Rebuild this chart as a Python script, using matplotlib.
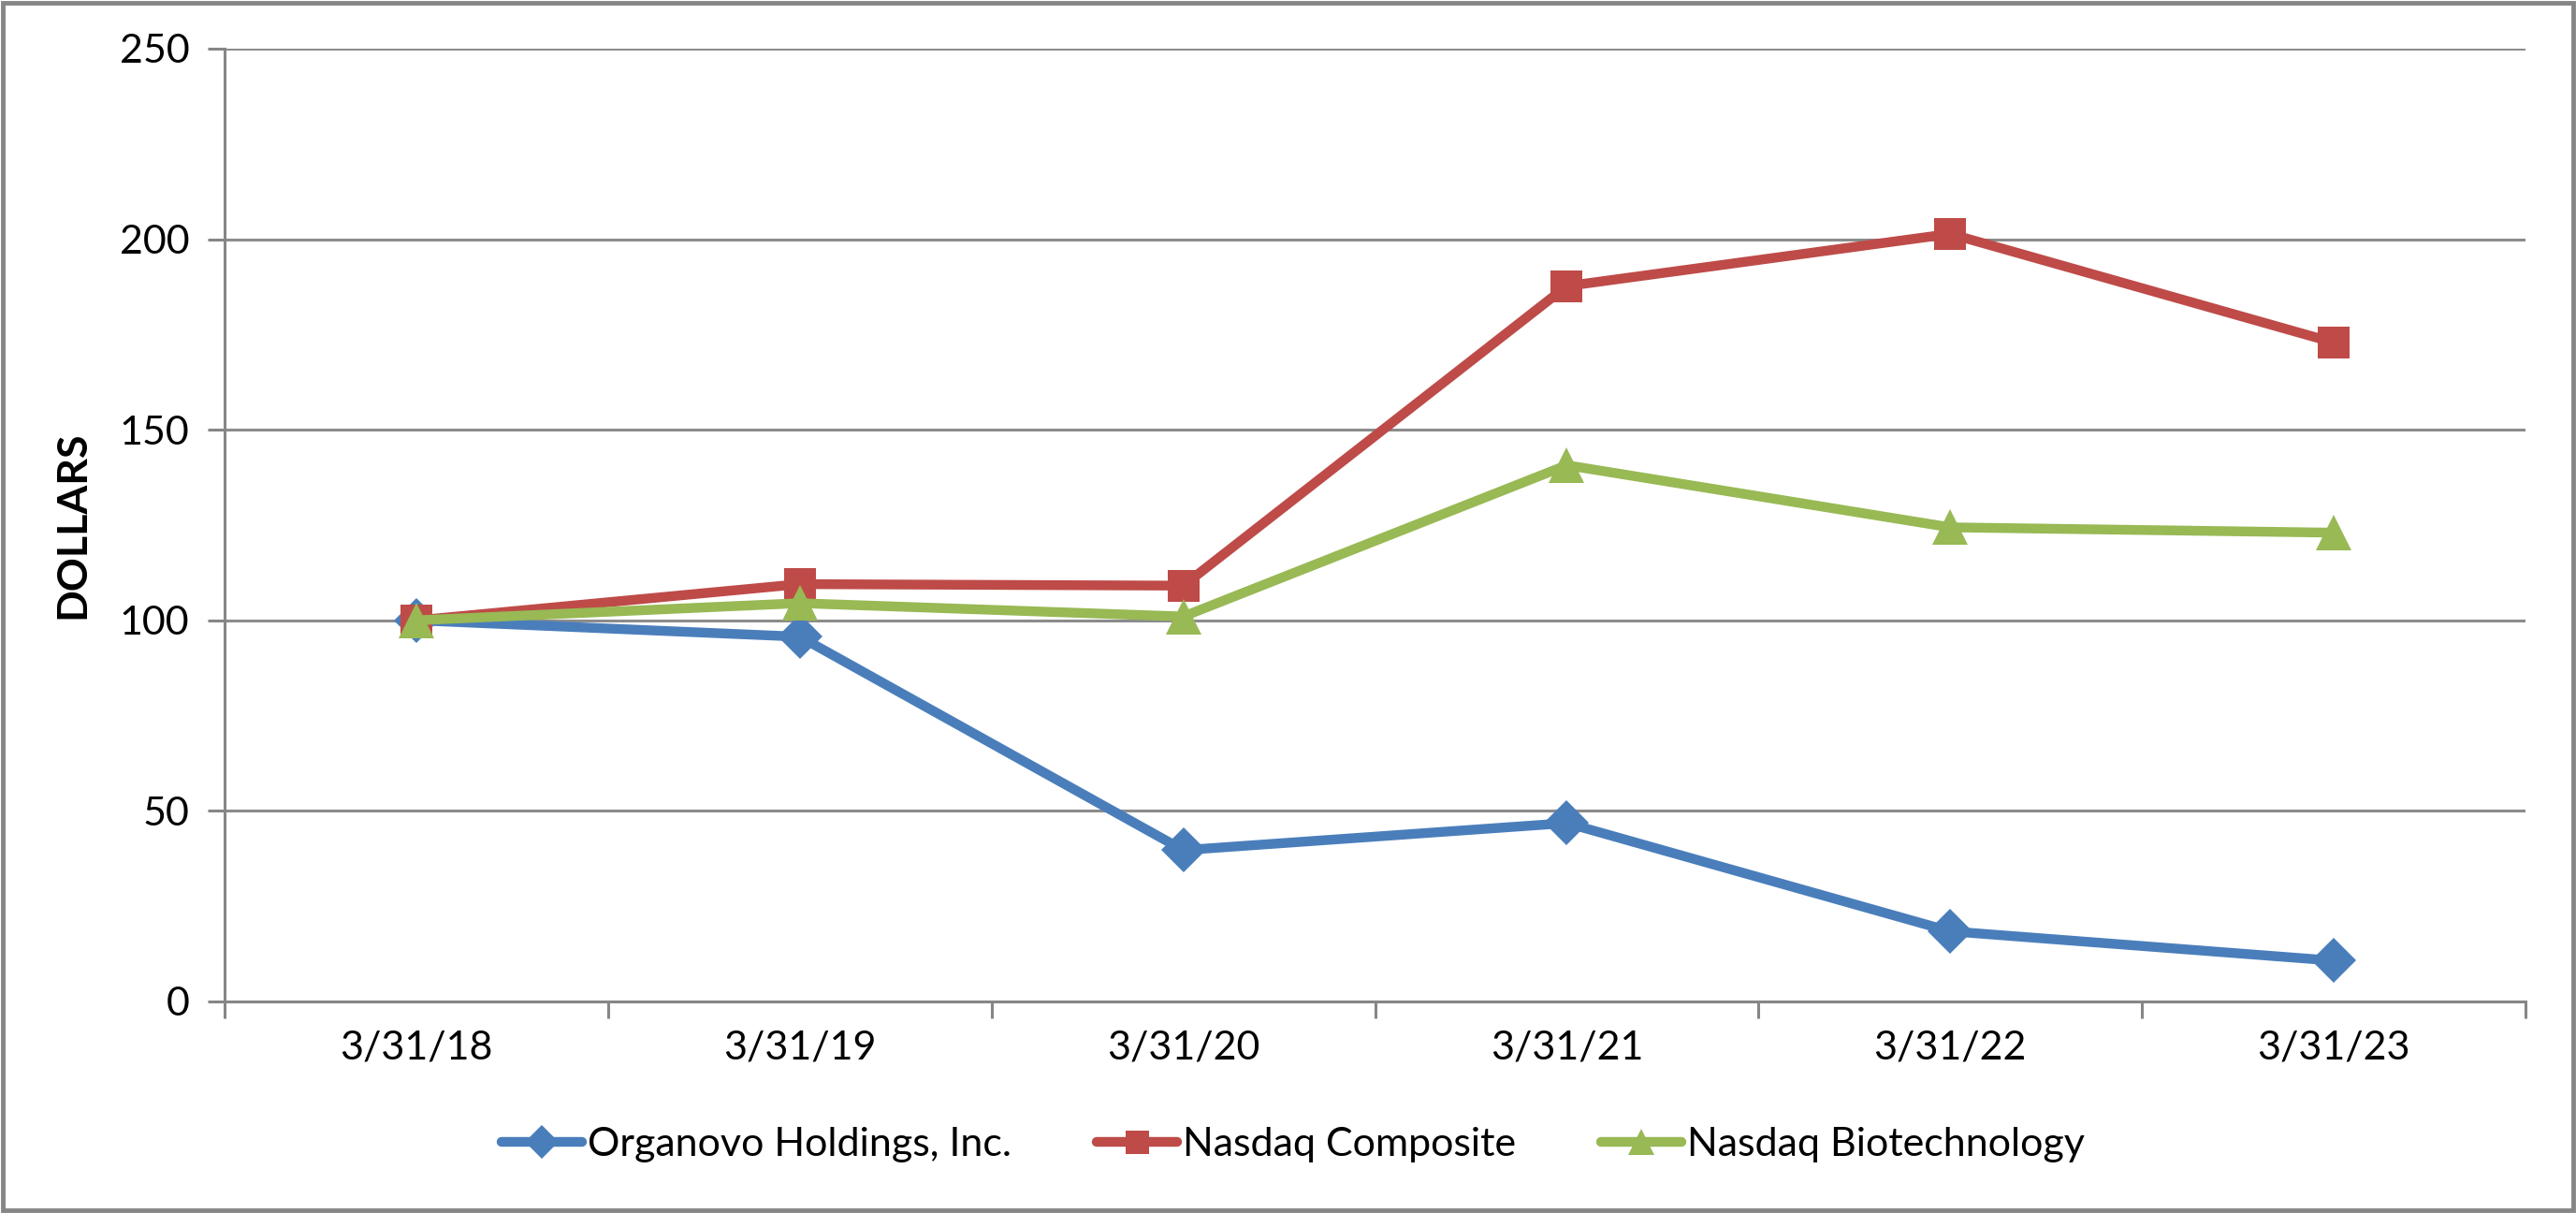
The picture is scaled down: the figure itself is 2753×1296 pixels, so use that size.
#!/usr/bin/env python3

import matplotlib
matplotlib.use('Agg')
import matplotlib.pyplot as plt
from matplotlib.patches import Rectangle
from matplotlib import rcParams
rcParams['font.family'] = ['Lato', 'DejaVu Sans']

dates = ['3/31/18', '3/31/19', '3/31/20', '3/31/21', '3/31/22', '3/31/23']
organovo = [100, 95.7, 39.7, 46.8, 18.4, 10.7]
nasdaq_comp = [100, 109.5, 109.1, 187.7, 201.4, 172.9]
nasdaq_bio = [100, 104.5, 101.0, 140.7, 124.4, 123.0]
y_ticks = [0, 50, 100, 150, 200, 250]

series = [
    ('Organovo Holdings, Inc.', organovo, '#4A7EBB', 'D', 24),
    ('Nasdaq Composite', nasdaq_comp, '#BE4B48', 's', 24),
    ('Nasdaq Biotechnology', nasdaq_bio, '#98B954', '^', 27),
]

fig = plt.figure(figsize=(27.53, 12.96), dpi=100)
ax = fig.add_axes([0.0872, 0.1744, 0.8932, 0.7855])

x = list(range(len(dates)))
for name, vals, col, mk, ms in series:
    ax.plot(x, vals, color=col, lw=7.5, marker=mk, ms=ms,
            markeredgewidth=0, label=name, solid_joinstyle='miter',
            solid_capstyle='round')

ax.set_xlim(-0.5, len(dates) - 0.5)
ax.set_ylim(0, 250)
ax.set_yticks(y_ticks)
ax.set_xticks(x)
ax.set_xticklabels(dates)
ax.set_xticks([i - 0.5 for i in range(len(dates) + 1)], minor=True)
ax.grid(axis='y', color='#8C8C8C', lw=2.2)
ax.set_axisbelow(True)

for s in ['top', 'right']:
    ax.spines[s].set_visible(False)
for s in ['left', 'bottom']:
    ax.spines[s].set_color('#868686')
    ax.spines[s].set_linewidth(2.2)

ax.tick_params(axis='y', which='major', labelsize=31, length=13, width=2.2,
               color='#868686', pad=14)
ax.tick_params(axis='x', which='major', labelsize=31, length=0, pad=22)
ax.tick_params(axis='x', which='minor', length=13, width=2.2, color='#868686')

ax.set_ylabel('DOLLARS', fontsize=32, fontweight='bold', labelpad=22)

ax.legend(loc='center', bbox_to_anchor=(0.502, 0.056), bbox_transform=fig.transFigure,
          ncol=3, frameon=False, fontsize=31, handlelength=2.0, markerscale=0.75,
          handletextpad=0.15, columnspacing=2.1)

fig.patches.append(Rectangle((0.001, 0.002), 0.998, 0.996, transform=fig.transFigure,
                             fill=False, edgecolor='#868686', lw=3.5))

plt.savefig('out.png', dpi=100)
